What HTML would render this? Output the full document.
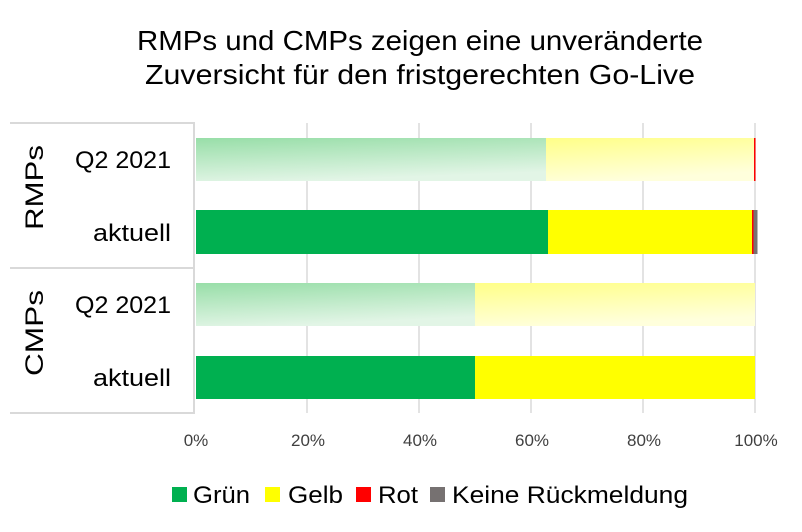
<!DOCTYPE html>
<html><head><meta charset="utf-8"><style>
body{margin:0;background:#fff}
</style></head><body>
<svg width="802" height="527" xmlns="http://www.w3.org/2000/svg" font-family="Liberation Sans, sans-serif">
<defs>
<linearGradient id="gg" x1="0" y1="0" x2="0.3" y2="1"><stop offset="0" stop-color="#98dea8"/><stop offset="1" stop-color="#e2f5e6"/></linearGradient>
<linearGradient id="gy" x1="0" y1="0" x2="0.3" y2="1"><stop offset="0" stop-color="#ffff88"/><stop offset="1" stop-color="#ffffdc"/></linearGradient>
</defs>
<rect width="802" height="527" fill="#fff"/>
<text x="137" y="50" font-size="28" textLength="566" lengthAdjust="spacingAndGlyphs" fill="#000">RMPs und CMPs zeigen eine unveränderte</text>
<text x="145" y="84" font-size="28" textLength="550" lengthAdjust="spacingAndGlyphs" fill="#000">Zuversicht für den fristgerechten Go-Live</text>
<g stroke="#e3e3e3" stroke-width="2">
<line x1="307" y1="123" x2="307" y2="413"/><line x1="419" y1="123" x2="419" y2="413"/>
<line x1="531" y1="123" x2="531" y2="413"/><line x1="643" y1="123" x2="643" y2="413"/>
<line x1="755" y1="123" x2="755" y2="413"/>
</g>
<g stroke="#d9d9d9" stroke-width="2">
<line x1="10" y1="123" x2="195" y2="123"/><line x1="10" y1="268" x2="195" y2="268"/><line x1="10" y1="413" x2="195" y2="413"/>
<line x1="194" y1="123" x2="194" y2="413"/>
</g>
<rect x="196" y="138" width="350" height="43" fill="url(#gg)"/>
<rect x="546" y="138" width="208" height="43" fill="url(#gy)"/>
<rect x="754" y="138" width="1.5" height="43" fill="#f00"/>
<rect x="196" y="210" width="352" height="44" fill="#00b050"/>
<rect x="548" y="210" width="204" height="44" fill="#ff0"/>
<rect x="752" y="210" width="1.5" height="44" fill="#f00"/>
<rect x="753.5" y="210" width="4" height="44" fill="#767171"/>
<rect x="196" y="283" width="279" height="43" fill="url(#gg)"/>
<rect x="475" y="283" width="280" height="43" fill="url(#gy)"/>
<rect x="196" y="356" width="279" height="43" fill="#00b050"/>
<rect x="475" y="356" width="280" height="43" fill="#ff0"/>
<g font-size="24" fill="#000">
<text x="75" y="168" textLength="96" lengthAdjust="spacingAndGlyphs">Q2 2021</text>
<text x="93" y="241" textLength="78" lengthAdjust="spacingAndGlyphs">aktuell</text>
<text x="75" y="313" textLength="96" lengthAdjust="spacingAndGlyphs">Q2 2021</text>
<text x="93" y="386" textLength="78" lengthAdjust="spacingAndGlyphs">aktuell</text>
</g>
<text transform="translate(43,230) rotate(-90)" font-size="25" textLength="85" lengthAdjust="spacingAndGlyphs">RMPs</text>
<text transform="translate(43,376) rotate(-90)" font-size="25" textLength="86" lengthAdjust="spacingAndGlyphs">CMPs</text>
<g font-size="17" text-anchor="middle" fill="#404040">
<text x="196" y="446">0%</text><text x="308" y="446">20%</text><text x="420" y="446">40%</text>
<text x="532" y="446">60%</text><text x="644" y="446">80%</text><text x="756" y="446">100%</text>
</g>
<g font-size="24" fill="#000">
<rect x="172" y="487" width="15" height="15" fill="#00b050"/><text x="193" y="503" textLength="57" lengthAdjust="spacingAndGlyphs">Grün</text>
<rect x="265" y="487" width="15" height="15" fill="#ff0"/><text x="288" y="503" textLength="55" lengthAdjust="spacingAndGlyphs">Gelb</text>
<rect x="356" y="487" width="15" height="15" fill="#f00"/><text x="378" y="503" textLength="40" lengthAdjust="spacingAndGlyphs">Rot</text>
<rect x="430" y="487" width="15" height="15" fill="#767171"/><text x="452" y="503" textLength="236" lengthAdjust="spacingAndGlyphs">Keine Rückmeldung</text>
</g>
</svg>
</body></html>
